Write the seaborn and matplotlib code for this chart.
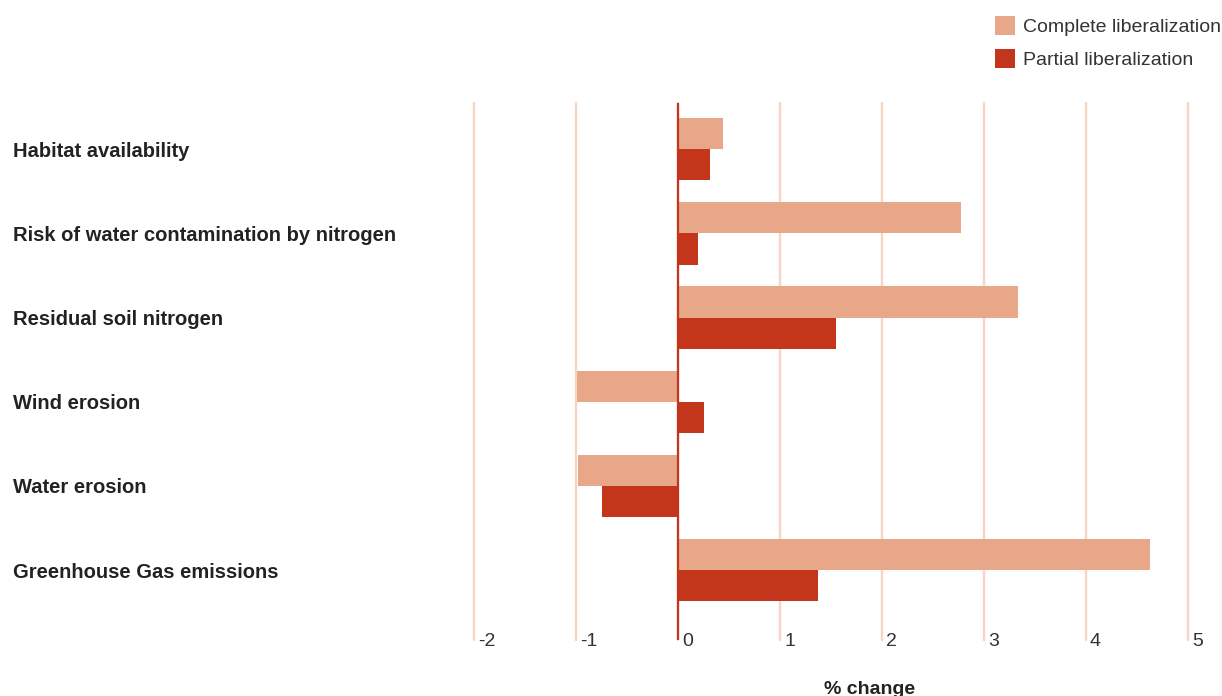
import matplotlib
matplotlib.use("Agg")
import matplotlib.pyplot as plt
import matplotlib.transforms as mtransforms
from matplotlib.patches import Patch
import pandas as pd
import seaborn as sns

# Environmental indicators and their % change under each scenario
categories = [
    "Habitat availability",
    "Risk of water contamination by nitrogen",
    "Residual soil nitrogen",
    "Wind erosion",
    "Water erosion",
    "Greenhouse Gas emissions",
]
complete_lib = [0.44, 2.77, 3.33, -0.99, -0.98, 4.63]
partial_lib = [0.31, 0.20, 1.55, 0.25, -0.75, 1.37]
scenarios = ["Complete liberalization", "Partial liberalization"]
x_ticks = [-2, -1, 0, 1, 2, 3, 4, 5]

COLOR_COMPLETE = "#E7A788"
COLOR_PARTIAL = "#C4361B"
GRID_COLOR = "#F6D5C7"
TEXT_COLOR = "#333333"

df = pd.DataFrame({
    "Indicator": categories * 2,
    "Scenario": [scenarios[0]] * len(categories) + [scenarios[1]] * len(categories),
    "Change": complete_lib + partial_lib,
})

sns.set_theme(style="white")
plt.rcParams["font.family"] = ["Liberation Sans", "DejaVu Sans"]

W, H, DPI = 1222, 696, 100
fig = plt.figure(figsize=(W / DPI, H / DPI), dpi=DPI)
ax = fig.add_axes([474 / W, 1 - 640 / H, (1188 - 474) / W, (640 - 103) / H])

sns.barplot(
    data=df, y="Indicator", x="Change", hue="Scenario", orient="h",
    order=categories, hue_order=scenarios,
    palette=[COLOR_COMPLETE, COLOR_PARTIAL],
    width=0.74, saturation=1, ax=ax, legend=False, zorder=2,
    linewidth=0, edgecolor="none",
)

ax.set_xlim(-2, 5)
ax.set_ylim(5.83, -0.55)
ax.set_xticks(x_ticks)
ax.set_xticklabels([str(t) for t in x_ticks])
ax.grid(axis="x", color=GRID_COLOR, linewidth=1.7, zorder=0)
ax.grid(axis="y", visible=False)
for gl in ax.get_xgridlines():
    gl.set_clip_on(False)
ax.axvline(0, color=COLOR_PARTIAL, linewidth=1.6, zorder=3)
for s in ax.spines.values():
    s.set_visible(False)

# x tick labels sit just right of each grid line, at its foot
ax.tick_params(axis="x", length=0, pad=-5, labelsize=14, labelcolor=TEXT_COLOR)
offset = mtransforms.ScaledTranslation(4 / DPI, 0, fig.dpi_scale_trans)
for lbl in ax.get_xticklabels():
    lbl.set_horizontalalignment("left")
    lbl.set_verticalalignment("top")
    lbl.set_fontweight("light")
    lbl.set_transform(lbl.get_transform() + offset)

# category labels flush left at the figure edge
ax.tick_params(axis="y", length=0, pad=(474 - 13) * 72 / DPI, labelsize=14.5,
               labelcolor="#222222")
for lbl in ax.get_yticklabels():
    lbl.set_horizontalalignment("left")
    lbl.set_fontweight("bold")

ax.set_xlabel("")
ax.set_ylabel("")
fig.text(870 / W, 2 / H, "% change", ha="center", va="baseline",
         fontsize=14, fontweight="bold", color="#222222")

handles = [Patch(facecolor=COLOR_COMPLETE, edgecolor="none"),
           Patch(facecolor=COLOR_PARTIAL, edgecolor="none")]
fig.legend(
    handles, scenarios, loc="upper left",
    bbox_to_anchor=(995 / W, 1 - 16 / H), bbox_transform=fig.transFigure,
    frameon=False, fontsize=14, labelcolor=TEXT_COLOR,
    handlelength=1.05, handleheight=1.1, handletextpad=0.4,
    labelspacing=0.68, borderpad=0, borderaxespad=0,
)

fig.savefig("out.png", dpi=DPI)
